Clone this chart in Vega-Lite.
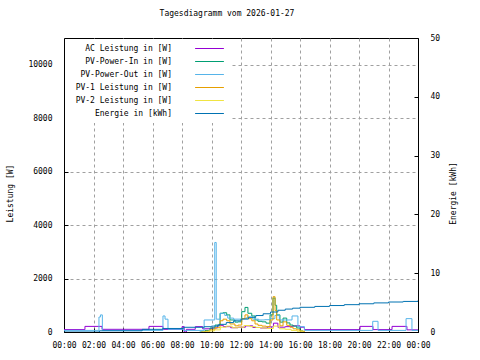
{
  "$schema": "https://vega.github.io/schema/vega-lite/v6.json",
  "width": 354,
  "height": 294,
  "autosize": {"type": "none"},
  "padding": {"left": 64, "top": 38, "right": 62, "bottom": 28},
  "background": "white",
  "title": {"text": "Tagesdiagramm vom 2026-01-27", "font": "DejaVu Sans Mono", "fontSize": 8, "fontWeight": "normal", "color": "black", "dx": -14, "offset": 16},
  "config": {
    "view": {"stroke": "black", "strokeWidth": 1},
    "font": "DejaVu Sans Mono",
    "axis": {"labelFont": "DejaVu Sans Mono", "labelFontSize": 8, "labelColor": "black", "titleFont": "DejaVu Sans Mono", "titleFontSize": 8, "titleFontWeight": "normal", "titleColor": "black", "domainColor": "black", "tickColor": "black", "tickSize": -4, "gridColor": "#a0a0a0", "gridDash": [3, 3], "gridOpacity": 1, "labelFlush": false, "labelOverlap": false},
    "legend": {"labelFont": "DejaVu Sans Mono", "labelFontSize": 8, "labelColor": "black"}
  },
  "data": {"values": [
    {"s":"AC Leistung in [W]","h":0,"v":90},{"s":"AC Leistung in [W]","h":1.42,"v":210},{"s":"AC Leistung in [W]","h":2.58,"v":100},{"s":"AC Leistung in [W]","h":5.76,"v":210},{"s":"AC Leistung in [W]","h":6.71,"v":100},{"s":"AC Leistung in [W]","h":8.0,"v":200},{"s":"AC Leistung in [W]","h":8.15,"v":0},{"s":"AC Leistung in [W]","h":8.3,"v":100},{"s":"AC Leistung in [W]","h":8.9,"v":200},{"s":"AC Leistung in [W]","h":9.4,"v":120},{"s":"AC Leistung in [W]","h":10.0,"v":150},{"s":"AC Leistung in [W]","h":10.4,"v":250},{"s":"AC Leistung in [W]","h":10.8,"v":200},{"s":"AC Leistung in [W]","h":11.3,"v":160},{"s":"AC Leistung in [W]","h":11.8,"v":180},{"s":"AC Leistung in [W]","h":12.3,"v":230},{"s":"AC Leistung in [W]","h":12.8,"v":170},{"s":"AC Leistung in [W]","h":13.3,"v":150},{"s":"AC Leistung in [W]","h":13.8,"v":190},{"s":"AC Leistung in [W]","h":14.2,"v":330},{"s":"AC Leistung in [W]","h":14.5,"v":180},{"s":"AC Leistung in [W]","h":15.0,"v":200},{"s":"AC Leistung in [W]","h":15.5,"v":230},{"s":"AC Leistung in [W]","h":16.0,"v":180},{"s":"AC Leistung in [W]","h":16.3,"v":90},{"s":"AC Leistung in [W]","h":20.07,"v":210},{"s":"AC Leistung in [W]","h":20.95,"v":90},{"s":"AC Leistung in [W]","h":22.24,"v":210},{"s":"AC Leistung in [W]","h":23.25,"v":80},{"s":"AC Leistung in [W]","h":24,"v":80},

    {"s":"PV-Power-In in [W]","h":9.2,"v":0},{"s":"PV-Power-In in [W]","h":9.56,"v":60},{"s":"PV-Power-In in [W]","h":9.9,"v":150},{"s":"PV-Power-In in [W]","h":10.24,"v":260},{"s":"PV-Power-In in [W]","h":10.58,"v":700},{"s":"PV-Power-In in [W]","h":10.78,"v":720},{"s":"PV-Power-In in [W]","h":11.03,"v":640},{"s":"PV-Power-In in [W]","h":11.25,"v":450},{"s":"PV-Power-In in [W]","h":11.59,"v":370},{"s":"PV-Power-In in [W]","h":11.8,"v":380},{"s":"PV-Power-In in [W]","h":12.05,"v":760},{"s":"PV-Power-In in [W]","h":12.27,"v":920},{"s":"PV-Power-In in [W]","h":12.47,"v":700},{"s":"PV-Power-In in [W]","h":12.73,"v":600},{"s":"PV-Power-In in [W]","h":12.95,"v":450},{"s":"PV-Power-In in [W]","h":13.15,"v":400},{"s":"PV-Power-In in [W]","h":13.42,"v":380},{"s":"PV-Power-In in [W]","h":13.7,"v":330},{"s":"PV-Power-In in [W]","h":13.97,"v":640},{"s":"PV-Power-In in [W]","h":14.17,"v":1270},{"s":"PV-Power-In in [W]","h":14.31,"v":1000},{"s":"PV-Power-In in [W]","h":14.42,"v":640},{"s":"PV-Power-In in [W]","h":14.64,"v":370},{"s":"PV-Power-In in [W]","h":14.85,"v":520},{"s":"PV-Power-In in [W]","h":15.1,"v":340},{"s":"PV-Power-In in [W]","h":15.32,"v":260},{"s":"PV-Power-In in [W]","h":15.53,"v":220},{"s":"PV-Power-In in [W]","h":15.78,"v":150},{"s":"PV-Power-In in [W]","h":16.0,"v":40},{"s":"PV-Power-In in [W]","h":16.2,"v":0},

    {"s":"PV-Power-Out in [W]","h":0,"v":60},{"s":"PV-Power-Out in [W]","h":2.37,"v":560},{"s":"PV-Power-Out in [W]","h":2.47,"v":640},{"s":"PV-Power-Out in [W]","h":2.6,"v":60},{"s":"PV-Power-Out in [W]","h":6.71,"v":600},{"s":"PV-Power-Out in [W]","h":6.85,"v":480},{"s":"PV-Power-Out in [W]","h":7.05,"v":100},{"s":"PV-Power-Out in [W]","h":8.1,"v":60},{"s":"PV-Power-Out in [W]","h":9.5,"v":450},{"s":"PV-Power-Out in [W]","h":10.22,"v":3350},{"s":"PV-Power-Out in [W]","h":10.32,"v":480},{"s":"PV-Power-Out in [W]","h":10.6,"v":700},{"s":"PV-Power-Out in [W]","h":10.9,"v":620},{"s":"PV-Power-Out in [W]","h":11.1,"v":520},{"s":"PV-Power-Out in [W]","h":11.5,"v":480},{"s":"PV-Power-Out in [W]","h":12.0,"v":500},{"s":"PV-Power-Out in [W]","h":12.4,"v":560},{"s":"PV-Power-Out in [W]","h":12.8,"v":480},{"s":"PV-Power-Out in [W]","h":13.2,"v":450},{"s":"PV-Power-Out in [W]","h":13.6,"v":460},{"s":"PV-Power-Out in [W]","h":14.0,"v":500},{"s":"PV-Power-Out in [W]","h":14.3,"v":620},{"s":"PV-Power-Out in [W]","h":14.6,"v":450},{"s":"PV-Power-Out in [W]","h":15.0,"v":450},{"s":"PV-Power-Out in [W]","h":15.46,"v":600},{"s":"PV-Power-Out in [W]","h":15.86,"v":200},{"s":"PV-Power-Out in [W]","h":16.3,"v":60},{"s":"PV-Power-Out in [W]","h":20.93,"v":400},{"s":"PV-Power-Out in [W]","h":21.29,"v":60},{"s":"PV-Power-Out in [W]","h":23.19,"v":500},{"s":"PV-Power-Out in [W]","h":23.59,"v":60},{"s":"PV-Power-Out in [W]","h":24,"v":60},

    {"s":"PV-1 Leistung in [W]","h":9.3,"v":0},{"s":"PV-1 Leistung in [W]","h":9.6,"v":30},{"s":"PV-1 Leistung in [W]","h":9.9,"v":80},{"s":"PV-1 Leistung in [W]","h":10.24,"v":160},{"s":"PV-1 Leistung in [W]","h":10.58,"v":420},{"s":"PV-1 Leistung in [W]","h":10.78,"v":480},{"s":"PV-1 Leistung in [W]","h":11.03,"v":420},{"s":"PV-1 Leistung in [W]","h":11.25,"v":300},{"s":"PV-1 Leistung in [W]","h":11.59,"v":230},{"s":"PV-1 Leistung in [W]","h":11.8,"v":260},{"s":"PV-1 Leistung in [W]","h":12.05,"v":500},{"s":"PV-1 Leistung in [W]","h":12.27,"v":640},{"s":"PV-1 Leistung in [W]","h":12.47,"v":500},{"s":"PV-1 Leistung in [W]","h":12.73,"v":420},{"s":"PV-1 Leistung in [W]","h":12.95,"v":300},{"s":"PV-1 Leistung in [W]","h":13.15,"v":250},{"s":"PV-1 Leistung in [W]","h":13.42,"v":220},{"s":"PV-1 Leistung in [W]","h":13.7,"v":200},{"s":"PV-1 Leistung in [W]","h":13.97,"v":450},{"s":"PV-1 Leistung in [W]","h":14.17,"v":1320},{"s":"PV-1 Leistung in [W]","h":14.31,"v":800},{"s":"PV-1 Leistung in [W]","h":14.42,"v":450},{"s":"PV-1 Leistung in [W]","h":14.64,"v":230},{"s":"PV-1 Leistung in [W]","h":14.85,"v":380},{"s":"PV-1 Leistung in [W]","h":15.1,"v":250},{"s":"PV-1 Leistung in [W]","h":15.32,"v":180},{"s":"PV-1 Leistung in [W]","h":15.53,"v":120},{"s":"PV-1 Leistung in [W]","h":15.78,"v":80},{"s":"PV-1 Leistung in [W]","h":16.0,"v":30},{"s":"PV-1 Leistung in [W]","h":16.3,"v":0},

    {"s":"PV-2 Leistung in [W]","h":9.4,"v":0},{"s":"PV-2 Leistung in [W]","h":9.8,"v":40},{"s":"PV-2 Leistung in [W]","h":10.2,"v":80},{"s":"PV-2 Leistung in [W]","h":10.6,"v":180},{"s":"PV-2 Leistung in [W]","h":11.0,"v":220},{"s":"PV-2 Leistung in [W]","h":11.4,"v":160},{"s":"PV-2 Leistung in [W]","h":11.8,"v":180},{"s":"PV-2 Leistung in [W]","h":12.2,"v":240},{"s":"PV-2 Leistung in [W]","h":12.6,"v":200},{"s":"PV-2 Leistung in [W]","h":13.0,"v":170},{"s":"PV-2 Leistung in [W]","h":13.4,"v":150},{"s":"PV-2 Leistung in [W]","h":13.8,"v":130},{"s":"PV-2 Leistung in [W]","h":14.2,"v":220},{"s":"PV-2 Leistung in [W]","h":14.6,"v":120},{"s":"PV-2 Leistung in [W]","h":15.0,"v":100},{"s":"PV-2 Leistung in [W]","h":15.4,"v":60},{"s":"PV-2 Leistung in [W]","h":15.8,"v":30},{"s":"PV-2 Leistung in [W]","h":16.2,"v":0},

    {"s":"Energie in [kWh]","h":0,"v":0.0},{"s":"Energie in [kWh]","h":2.4,"v":0.2},{"s":"Energie in [kWh]","h":5.3,"v":0.45},{"s":"Energie in [kWh]","h":6.7,"v":0.6},{"s":"Energie in [kWh]","h":8.1,"v":0.8},{"s":"Energie in [kWh]","h":9.5,"v":0.9},{"s":"Energie in [kWh]","h":10.0,"v":1.0},{"s":"Energie in [kWh]","h":10.5,"v":1.3},{"s":"Energie in [kWh]","h":11.0,"v":1.6},{"s":"Energie in [kWh]","h":11.5,"v":1.9},{"s":"Energie in [kWh]","h":12.0,"v":2.2},{"s":"Energie in [kWh]","h":12.5,"v":2.5},{"s":"Energie in [kWh]","h":13.0,"v":2.8},{"s":"Energie in [kWh]","h":13.5,"v":3.1},{"s":"Energie in [kWh]","h":14.0,"v":3.4},{"s":"Energie in [kWh]","h":14.5,"v":3.7},{"s":"Energie in [kWh]","h":15.0,"v":3.9},{"s":"Energie in [kWh]","h":15.5,"v":4.05},{"s":"Energie in [kWh]","h":16.0,"v":4.2},{"s":"Energie in [kWh]","h":17.0,"v":4.35},{"s":"Energie in [kWh]","h":18.0,"v":4.5},{"s":"Energie in [kWh]","h":19.0,"v":4.65},{"s":"Energie in [kWh]","h":20.0,"v":4.8},{"s":"Energie in [kWh]","h":21.0,"v":4.95},{"s":"Energie in [kWh]","h":22.0,"v":5.1},{"s":"Energie in [kWh]","h":23.0,"v":5.2},{"s":"Energie in [kWh]","h":24,"v":5.35}
  ]},
  "encoding": {
    "x": {"field": "h", "type": "quantitative", "scale": {"domain": [0, 24], "nice": false, "zero": false},
      "axis": {"title": null, "values": [0,2,4,6,8,10,12,14,16,18,20,22,24], "labelExpr": "(datum.value % 24 < 10 ? '0' : '') + (datum.value % 24) + ':00'", "grid": true, "labelPadding": 13}}
  },
  "layer": [
    {
      "transform": [{"filter": "datum.s != 'Energie in [kWh]'"}],
      "mark": {"type": "line", "interpolate": "step-after", "strokeWidth": 1, "clip": true},
      "encoding": {
        "y": {"field": "v", "type": "quantitative", "scale": {"domain": [0, 11000], "nice": false},
          "axis": {"title": "Leistung [W]", "orient": "left", "format": "d", "values": [0,2000,4000,6000,8000,10000], "grid": true, "labelPadding": 16, "titleX": -54, "titleY": 155, "titleBaseline": "middle", "titleAngle": 270, "titleAlign": "center"}},
        "color": {"field": "s", "type": "nominal",
          "scale": {"domain": ["AC Leistung in [W]", "PV-Power-In in [W]", "PV-Power-Out in [W]", "PV-1 Leistung in [W]", "PV-2 Leistung in [W]", "Energie in [kWh]"], "range": ["#9400d3", "#009e73", "#56b4e9", "#e69f00", "#f0e442", "#0072b2"]},
          "legend": {"orient": "none", "legendX": 1, "legendY": 1, "title": null, "padding": 5, "fillColor": "white", "symbolType": "M-3.6,0H3.6", "symbolSize": 64, "symbolStrokeWidth": 1, "symbolOffset": 135, "labelAlign": "right", "labelOffset": -42, "rowPadding": 4, "labelLimit": 300}}
      }
    },
    {
      "transform": [{"filter": "datum.s == 'Energie in [kWh]'"}],
      "mark": {"type": "line", "interpolate": "step-after", "strokeWidth": 1, "clip": true},
      "encoding": {
        "y": {"field": "v", "type": "quantitative", "scale": {"domain": [0, 50], "nice": false},
          "axis": {"title": "Energie [kWh]", "orient": "right", "values": [0,10,20,30,40,50], "grid": false, "labelPadding": 16, "titleX": 35, "titleY": 155, "titleBaseline": "middle", "titleAngle": 270, "titleAlign": "center"}},
        "color": {"field": "s", "type": "nominal"}
      }
    }
  ],
  "resolve": {"scale": {"y": "independent"}}
}
